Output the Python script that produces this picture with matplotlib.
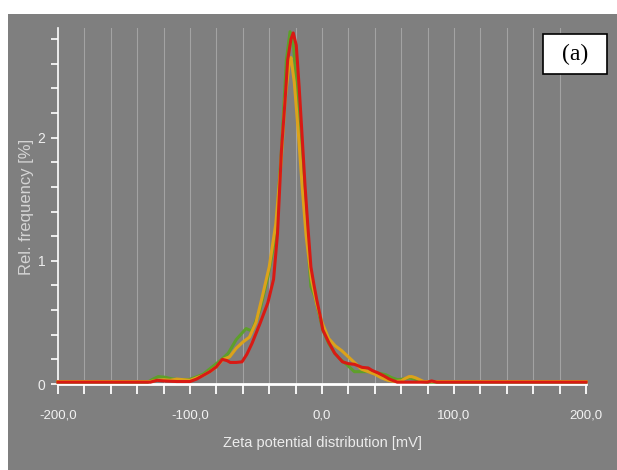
import matplotlib
matplotlib.use("Agg")
import matplotlib.pyplot as plt
from matplotlib.patches import Rectangle
from matplotlib.ticker import MultipleLocator, FixedLocator, FixedFormatter

# zeta potential [mV] and relative frequency [%]
green_x = [-200, -132, -128, -124, -119, -113, -107, -101, -97, -90, -83, -76, -71, -65,
           -60, -57.5, -53, -47, -41, -35, -30.7, -27, -24.2, -22, -20.3, -17.3, -12.8,
           -8.4, -5.4, -2, 0.6, 5, 9.6, 14, 18.5, 24.5, 30, 36.4, 42, 48.4, 53, 57.3, 61,
           66.3, 70, 75.2, 80, 200]
green_y = [0.015, 0.015, 0.04, 0.06, 0.055, 0.04, 0.035, 0.035, 0.05, 0.08, 0.14, 0.2,
           0.25, 0.36, 0.42, 0.45, 0.43, 0.6, 0.87, 1.22, 1.9, 2.63, 2.86, 2.8, 2.58, 2.04,
           1.44, 0.79, 0.71, 0.56, 0.44, 0.33, 0.25, 0.2, 0.16, 0.1, 0.1, 0.1, 0.09, 0.075,
           0.05, 0.035, 0.04, 0.05, 0.04, 0.02, 0.015, 0.015]

orange_x = [-200, -130, -125, -120, -115, -110, -105, -100, -95, -90, -85, -80, -75, -70,
            -65, -60, -55, -50, -45, -40, -35, -31, -28, -25, -23.5, -21, -18, -15, -12,
            -8, -4, 0, 5, 10, 15, 20, 25, 30, 35, 40, 45, 50, 55, 60, 63, 66, 68, 71, 74,
            77, 80, 200]
orange_y = [0.02, 0.02, 0.03, 0.035, 0.03, 0.04, 0.035, 0.03, 0.05, 0.07, 0.1, 0.14, 0.2,
            0.22, 0.29, 0.34, 0.38, 0.5, 0.72, 0.95, 1.3, 1.8, 2.3, 2.6, 2.65, 2.45, 2.05,
            1.6, 1.2, 0.85, 0.65, 0.5, 0.37, 0.31, 0.27, 0.22, 0.17, 0.12, 0.1, 0.08,
            0.05, 0.03, 0.02, 0.025, 0.045, 0.06, 0.06, 0.05, 0.035, 0.02, 0.02, 0.02]

red_x = [-200, -130, -125, -120, -110, -100, -95, -90, -85, -80, -75.5, -72, -69.5, -65,
         -60.6, -57, -53, -47, -41, -36.7, -33.7, -30.7, -28, -26, -23.5, -21.8, -19.5,
         -17.3, -15, -12.8, -10.5, -8.4, -6, -3.9, -1.5, 0.6, 5, 9.6, 15.5, 20, 24.5,
         30.4, 35, 38, 42.4, 47, 51, 57, 60, 75, 80, 83, 87, 90, 200]
red_y = [0.015, 0.015, 0.03, 0.025, 0.02, 0.02, 0.04, 0.07, 0.1, 0.14, 0.2, 0.19, 0.175,
         0.175, 0.18, 0.24, 0.33, 0.49, 0.66, 0.85, 1.22, 1.9, 2.3, 2.63, 2.8, 2.85, 2.75,
         2.41, 2.0, 1.6, 1.25, 0.95, 0.8, 0.68, 0.56, 0.44, 0.34, 0.25, 0.18, 0.165,
         0.16, 0.135, 0.13, 0.11, 0.09, 0.065, 0.04, 0.015, 0.015, 0.015, 0.015, 0.025,
         0.015, 0.015, 0.015]

x_tick_values = [-200, -100, 0, 100, 200]
x_tick_labels = ["-200,0", "-100,0", "0,0", "100,0", "200,0"]
y_tick_values = [0, 1, 2]
y_tick_labels = ["0", "1", "2"]

GREY = "#7f7f7f"
narrow = ["Liberation Sans Narrow", "Liberation Sans", "DejaVu Sans"]

fig = plt.figure(figsize=(6.17, 4.70), dpi=100)
fig.patch.set_facecolor("white")
# grey panel behind the plot (white strip at top and left)
fig.add_artist(Rectangle((8 / 617, 0), 1 - 8 / 617, 1 - 14 / 470,
                         transform=fig.transFigure, facecolor=GREY,
                         edgecolor="none", zorder=-5))

ax = fig.add_axes([58 / 617, 1 - 384 / 470, (586 - 58) / 617, (384 - 28) / 470])
ax.set_zorder(1)
ax.set_facecolor(GREY)
ax.set_xlim(-200, 200)
ax.set_ylim(0, 2.89)

# vertical grid every 20 mV
for g in range(-180, 200, 20):
    ax.axvline(g, color="#a3a3a3", lw=0.8, zorder=1)

ax.plot(green_x, green_y, color="#5e9f2a", lw=2.2, zorder=3, clip_on=False)
ax.plot(orange_x, orange_y, color="#dca21a", lw=2.2, zorder=4, clip_on=False)
ax.plot(red_x, red_y, color="#d81a14", lw=2.2, zorder=5, clip_on=False)

for s in ["top", "right"]:
    ax.spines[s].set_visible(False)
ax.spines["left"].set_color("white")
ax.spines["left"].set_linewidth(1.2)
ax.spines["bottom"].set_color("white")
ax.spines["bottom"].set_linewidth(2.0)

ax.xaxis.set_major_locator(FixedLocator(x_tick_values))
ax.xaxis.set_major_formatter(FixedFormatter(x_tick_labels))
ax.xaxis.set_minor_locator(MultipleLocator(20))
ax.yaxis.set_major_locator(FixedLocator(y_tick_values))
ax.yaxis.set_major_formatter(FixedFormatter(y_tick_labels))
ax.yaxis.set_minor_locator(MultipleLocator(0.2))

ax.tick_params(axis="x", which="both", direction="out", length=7, width=1.3,
               colors="white", pad=11, labelsize=9.5)
ax.tick_params(axis="y", which="both", direction="out", length=5, width=1.2,
               colors="white", pad=4, labelsize=10)
for lab in ax.get_xticklabels():
    lab.set_family(narrow)
    lab.set_color("#f2f2f2")
for lab in ax.get_yticklabels():
    lab.set_family(narrow)
    lab.set_color("#eeeeee")

ax.set_xlabel("Zeta potential distribution [mV]", family=narrow, fontsize=10.5,
              color="#ececec", labelpad=11)
fig.text(27 / 617, 1 - 207 / 470, "Rel. frequency [%]", rotation=90,
         ha="center", va="center", family=["Liberation Sans", "DejaVu Sans"],
         fontsize=12, color="#d4d4d4")

# panel label box
fig.add_artist(Rectangle((543 / 617, 1 - 74 / 470), 64 / 617, 40 / 470,
                         transform=fig.transFigure, facecolor="white",
                         edgecolor="black", lw=1.2, zorder=10))
fig.text(575 / 617, 1 - 54 / 470, "(a)", ha="center", va="center",
         family=["Liberation Serif", "DejaVu Serif"], fontsize=17, zorder=11)

fig.savefig("out.png", dpi=100, facecolor=fig.get_facecolor())
